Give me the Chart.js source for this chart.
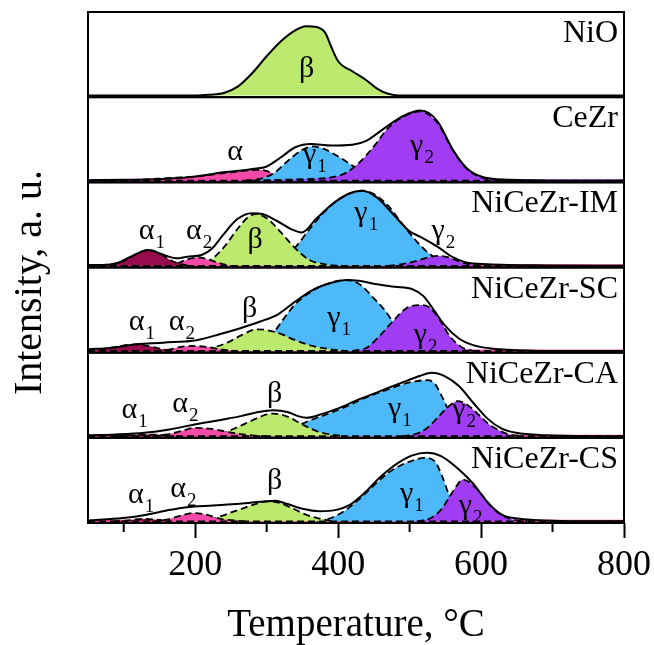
<!DOCTYPE html>
<html>
<head>
<meta charset="utf-8">
<script src="https://cdn.jsdelivr.net/npm/chart.js@4.4.1/dist/chart.umd.min.js"></script>
<style>
html,body{margin:0;padding:0;background:#fff;}
#wrap{width:654px;height:645px;position:relative;}
</style>
</head>
<body>
<div id="wrap"><canvas id="c" width="654" height="645"></canvas></div>
<script>
// ---------- DATA (temperature °C, relative intensity within each panel) ----------
const panelNames = ['NiO', 'CeZr', 'NiCeZr-IM', 'NiCeZr-SC', 'NiCeZr-CA', 'NiCeZr-CS'];
const xTickValues = [100, 200, 300, 400, 500, 600, 700, 800];
const zeroLine = [[50, 0], [800, 0]];

// NiO
const nioBeta = [[50,0],[200,0],[220,0.01],[240,0.03],[260,0.11],[280,0.27],[300,0.47],[320,0.65],[340,0.78],[355,0.83],[370,0.82],[382,0.75],[390,0.59],[400,0.41],[420,0.29],[440,0.18],[455,0.08],[470,0.02],[485,0],[800,0]];

// CeZr
const cezrTotal = [[50,0.005],[100,0.01],[150,0.02],[190,0.04],[240,0.10],[280,0.14],[300,0.17],[320,0.28],[340,0.40],[362,0.44],[390,0.42],[420,0.43],[440,0.48],[465,0.63],[490,0.77],[515,0.84],[527,0.81],[540,0.70],[560,0.38],[580,0.15],[600,0.05],[640,0.01],[700,0],[800,0]];
const cezrAlpha = [[80,0],[120,0.01],[160,0.03],[200,0.05],[240,0.09],[270,0.12],[290,0.13],[305,0.10],[315,0.04],[325,0]];
const cezrGamma1 = [[270,0],[290,0.02],[310,0.09],[330,0.24],[350,0.37],[365,0.41],[380,0.38],[400,0.29],[420,0.18],[440,0.08],[460,0.03],[480,0]];
const cezrGamma2 = [[280,0],[320,0.01],[360,0.02],[390,0.04],[410,0.09],[430,0.22],[450,0.41],[470,0.63],[490,0.76],[515,0.83],[527,0.79],[540,0.68],[560,0.37],[580,0.14],[600,0.04],[620,0.01],[650,0]];

// NiCeZr-IM
const imTotal = [[50,0.01],[70,0.01],[90,0.03],[110,0.11],[134,0.19],[159,0.12],[174,0.09],[189,0.11],[209,0.13],[224,0.21],[239,0.37],[259,0.56],[279,0.63],[294,0.62],[314,0.54],[334,0.44],[349,0.40],[369,0.56],[389,0.72],[414,0.86],[434,0.90],[454,0.82],[479,0.60],[499,0.42],[519,0.33],[539,0.23],[559,0.11],[579,0.04],[609,0.02],[690,0.005],[800,0]];
const imAlpha1 = [[65,0],[80,0.01],[100,0.06],[120,0.15],[135,0.19],[150,0.15],[165,0.07],[180,0.02],[195,0]];
const imAlpha2 = [[160,0],[175,0.03],[190,0.08],[205,0.10],[220,0.07],[235,0.03],[250,0]];
const imBeta = [[200,0],[220,0.06],[240,0.22],[260,0.45],[275,0.59],[285,0.62],[300,0.57],[320,0.40],[340,0.21],[360,0.07],[380,0.02],[400,0]];
const imGamma1 = [[300,0],[320,0.07],[340,0.22],[360,0.44],[380,0.64],[400,0.79],[420,0.88],[435,0.90],[450,0.86],[470,0.72],[490,0.50],[510,0.29],[530,0.13],[550,0.04],[570,0]];
const imGamma2 = [[470,0],[490,0.02],[510,0.06],[525,0.10],[540,0.12],[555,0.10],[570,0.05],[585,0.015],[600,0]];

// NiCeZr-SC
const scTotal = [[50,0.02],[85,0.04],[118,0.08],[155,0.10],[202,0.13],[234,0.20],[262,0.27],[290,0.35],[316,0.44],[338,0.58],[364,0.73],[392,0.82],[412,0.85],[429,0.84],[454,0.80],[479,0.77],[504,0.74],[519,0.66],[534,0.49],[549,0.31],[569,0.15],[589,0.07],[614,0.03],[649,0.01],[720,0],[800,0]];
const scAlpha1 = [[50,0],[70,0.02],[95,0.06],[118,0.08],[140,0.05],[160,0.01],[170,0]];
const scAlpha2 = [[145,0],[165,0.02],[180,0.05],[195,0.06],[215,0.05],[235,0.02],[255,0]];
const scBeta = [[200,0],[220,0.03],[245,0.10],[265,0.19],[286,0.26],[300,0.25],[318,0.21],[340,0.13],[364,0.06],[390,0.02],[410,0]];
const scGamma1 = [[280,0],[295,0.06],[310,0.22],[325,0.40],[340,0.56],[364,0.72],[390,0.82],[411,0.85],[430,0.80],[450,0.63],[465,0.49],[476,0.36],[490,0.22],[505,0.11],[520,0.04],[540,0]];
const scGamma2 = [[420,0],[440,0.04],[458,0.18],[476,0.35],[495,0.51],[514,0.55],[528,0.52],[541,0.39],[556,0.18],[574,0.04],[590,0]];

// NiCeZr-CA
const caTotal = [[50,0.01],[89,0.02],[129,0.04],[164,0.08],[199,0.14],[239,0.20],[264,0.24],[289,0.29],[309,0.31],[329,0.29],[344,0.24],[356,0.22],[379,0.27],[399,0.33],[429,0.44],[459,0.54],[489,0.64],[514,0.72],[531,0.76],[549,0.72],[569,0.60],[589,0.40],[609,0.21],[629,0.09],[649,0.04],[689,0.01],[750,0],[800,0]];
const caAlpha1 = [[90,0],[110,0.01],[130,0.02],[150,0.015],[170,0]];
const caAlpha2 = [[140,0],[160,0.02],[180,0.06],[200,0.10],[220,0.09],[240,0.06],[260,0.03],[280,0.01],[300,0]];
const caBeta = [[220,0],[240,0.04],[260,0.11],[280,0.19],[300,0.26],[310,0.27],[330,0.23],[350,0.14],[370,0.06],[390,0.02],[410,0]];
const caGamma1 = [[290,0],[310,0.02],[330,0.07],[350,0.15],[370,0.22],[390,0.28],[410,0.35],[430,0.43],[450,0.50],[470,0.56],[490,0.62],[510,0.66],[525,0.67],[535,0.63],[545,0.48],[555,0.30],[565,0.14],[580,0.04],[595,0]];
const caGamma2 = [[490,0],[510,0.03],[525,0.10],[540,0.23],[555,0.36],[567,0.42],[580,0.38],[595,0.27],[610,0.15],[625,0.07],[640,0.02],[660,0]];

// NiCeZr-CS
const csTotal = [[50,0.01],[99,0.04],[132,0.08],[160,0.13],[188,0.17],[225,0.19],[262,0.21],[300,0.24],[312,0.245],[328,0.21],[350,0.15],[374,0.12],[399,0.14],[415,0.19],[429,0.28],[444,0.40],[459,0.53],[484,0.70],[504,0.79],[524,0.82],[544,0.78],[569,0.62],[589,0.45],[609,0.23],[629,0.08],[654,0.03],[689,0.01],[750,0],[800,0]];
const csAlpha1 = [[85,0],[105,0.01],[125,0.03],[145,0.02],[165,0]];
const csAlpha2 = [[140,0],[160,0.02],[180,0.07],[197,0.10],[215,0.08],[235,0.03],[255,0.01],[270,0]];
const csBeta = [[205,0],[225,0.03],[245,0.09],[265,0.15],[285,0.21],[302,0.24],[318,0.22],[335,0.16],[355,0.08],[375,0.03],[395,0]];
const csGamma1 = [[370,0],[390,0.04],[410,0.13],[430,0.27],[450,0.43],[470,0.58],[490,0.68],[505,0.73],[520,0.76],[535,0.72],[545,0.55],[555,0.32],[565,0.14],[575,0.05],[590,0]];
const csGamma2 = [[510,0],[530,0.04],[545,0.15],[560,0.35],[575,0.50],[585,0.46],[600,0.33],[615,0.17],[630,0.07],[645,0.02],[665,0]];

// peak labels: [panel, symbol, subscript, temperature, intensity]
const peakLabels = [
  [0,'β','',356,0.31],
  [1,'α','',256,0.33],[1,'γ','1',360,0.26],[1,'γ','2',510,0.37],
  [2,'α','1',132,0.41],[2,'α','2',198,0.40],[2,'β','',284,0.30],[2,'γ','1',432,0.58],[2,'γ','2',540,0.37],
  [3,'α','1',118,0.34],[3,'α','2',174,0.34],[3,'β','',276,0.49],[3,'γ','1',394,0.35],[3,'γ','2',515,0.14],
  [4,'α','1',108,0.30],[4,'α','2',179,0.37],[4,'β','',311,0.49],[4,'γ','1',479,0.28],[4,'γ','2',569,0.27],
  [5,'α','1',117,0.30],[5,'α','2',176,0.38],[5,'β','',311,0.47],[5,'γ','1',496,0.28],[5,'γ','2',578,0.14]
];

// ---------- STYLE ----------
const COL = {
  green: '#BCEA6E', blue: '#4DB9F8', purple: '#A03CF2', pink: '#F24AA6', maroon: '#960C4C'
};
const SERIF = '"Liberation Serif", "Times New Roman", serif';

// panel components, listed bottom-most first
const panels = [
  {total: null, comps: [], fillTotal: nioBeta, base: null},
  {total: cezrTotal, comps: [[cezrAlpha, COL.pink], [cezrGamma1, COL.blue], [cezrGamma2, COL.purple]], base: COL.purple},
  {total: imTotal, comps: [[imGamma1, COL.blue], [imGamma2, COL.purple], [imBeta, COL.green], [imAlpha2, COL.pink], [imAlpha1, COL.maroon]], base: COL.pink},
  {total: scTotal, comps: [[scGamma1, COL.blue], [scGamma2, COL.purple], [scBeta, COL.green], [scAlpha2, COL.pink], [scAlpha1, COL.maroon]], base: COL.pink},
  {total: caTotal, comps: [[caGamma1, COL.blue], [caGamma2, COL.purple], [caBeta, COL.green], [caAlpha2, COL.pink], [caAlpha1, COL.maroon]], base: COL.pink},
  {total: csTotal, comps: [[csGamma1, COL.blue], [csGamma2, COL.purple], [csBeta, COL.green], [csAlpha2, COL.pink], [csAlpha1, COL.maroon]], base: COL.pink}
];

const toXY = arr => arr.map(p => ({x: p[0], y: p[1]}));
const layers = []; // bottom-first
panels.forEach((p, i) => {
  const yID = 'p' + i;
  const common = {yAxisID: yID, xAxisID: 'x', pointRadius: 0, pointHoverRadius: 0, cubicInterpolationMode: 'monotone'};
  if (p.base) {
    layers.push({...common, data: toXY(zeroLine), borderColor: p.base, borderWidth: 3, fill: false});
  }
  if (p.fillTotal) {
    layers.push({...common, data: toXY(p.fillTotal), borderColor: '#000', borderWidth: 2, backgroundColor: COL.green, fill: 'origin'});
  }
  p.comps.forEach(c => {
    layers.push({...common, data: toXY(c[0]), borderColor: '#000', borderWidth: 1.8, borderDash: [7, 4], backgroundColor: c[1], fill: 'origin'});
  });
  if (p.base) {
    layers.push({...common, data: toXY(zeroLine), borderColor: '#000', borderWidth: 1.8, borderDash: [7, 4], fill: false});
  }
  if (p.total) {
    layers.push({...common, data: toXY(p.total), borderColor: '#000', borderWidth: 2, fill: false});
  }
});
const N = layers.length;
layers.forEach((d, k) => { d.order = N - k; });

const scales = {
  x: {
    type: 'linear', position: 'bottom', min: 50, max: 800,
    afterBuildTicks: s => { s.ticks = xTickValues.map(v => ({value: v})); },
    afterFit: s => { s.height = 122; s.paddingRight = 30; s.paddingLeft = 0; },
    grid: {display: true, drawOnChartArea: false, drawTicks: true, tickLength: 15, tickWidth: 2,
      tickColor: c => (c.tick && c.tick.value % 200 === 0) ? '#000' : 'rgba(0,0,0,0)'},
    border: {display: false},
    ticks: {callback: v => (v % 200 === 0 ? String(v) : ''), autoSkip: false, maxRotation: 0,
      font: {family: SERIF, size: 36}, color: '#000', padding: 6},
    title: {display: true, text: 'Temperature, °C', color: '#000',
      font: {family: SERIF, size: 39, lineHeight: 1}, padding: {top: 0, bottom: 0}}
  },
  yT: {
    type: 'linear', position: 'left', min: 0, max: 1,
    afterFit: s => { s.width = 88; },
    grid: {display: false}, border: {display: false}, ticks: {display: false},
    title: {display: true, text: 'Intensity, a. u.   ', color: '#000',
      font: {family: SERIF, size: 40, lineHeight: 1}, padding: {top: 10, bottom: 0}}
  }
};
panelNames.forEach((n, i) => {
  scales['p' + i] = {
    type: 'linear', position: 'left', stack: 'panels', stackWeight: 1, weight: 5 - i,
    min: -0.02, max: 1.0,
    afterFit: s => { s.width = 0; },
    grid: {display: false}, border: {display: false}, ticks: {display: false}
  };
});

const framePlugin = {
  id: 'frames',
  afterDraw(chart) {
    const {ctx, chartArea: ca} = chart;
    ctx.save();
    ctx.strokeStyle = '#000';
    ctx.lineWidth = 2;
    ctx.fillStyle = '#000';
    panelNames.forEach((name, i) => {
      const s = chart.scales['p' + i];
      ctx.strokeRect(ca.left, s.top, ca.right - ca.left, s.bottom - s.top);
      ctx.font = '32px ' + SERIF;
      ctx.textAlign = 'right';
      ctx.textBaseline = 'alphabetic';
      ctx.fillText(name, ca.right - 6, s.top + 30);
    });
    // minor ticks
    const xs = chart.scales.x;
    xTickValues.forEach(v => {
      if (v % 200 !== 0) {
        const px = xs.getPixelForValue(v);
        ctx.beginPath();
        ctx.moveTo(px, ca.bottom);
        ctx.lineTo(px, ca.bottom + 9);
        ctx.stroke();
      }
    });
    // peak labels
    peakLabels.forEach(l => {
      const ys = chart.scales['p' + l[0]];
      const px = xs.getPixelForValue(l[3]);
      const py = ys.getPixelForValue(l[4]);
      ctx.font = '30px ' + SERIF;
      ctx.textAlign = 'center';
      ctx.textBaseline = 'alphabetic';
      const base = py + (l[1] === 'γ' ? 4 : 7);
      ctx.fillText(l[1], px, base);
      if (l[2]) {
        const w = ctx.measureText(l[1]).width;
        ctx.font = '19px ' + SERIF;
        ctx.textAlign = 'left';
        ctx.fillText(l[2], px + w / 2 + 1, base + 9);
      }
    });
    ctx.restore();
  }
};

new Chart(document.getElementById('c'), {
  type: 'line',
  data: {datasets: layers},
  options: {
    responsive: false, animation: false, devicePixelRatio: 1,
    layout: {padding: {top: 12, right: 30, left: 0, bottom: 0}},
    plugins: {legend: {display: false}, tooltip: {enabled: false}},
    scales: scales
  },
  plugins: [framePlugin]
});
</script>
</body>
</html>
